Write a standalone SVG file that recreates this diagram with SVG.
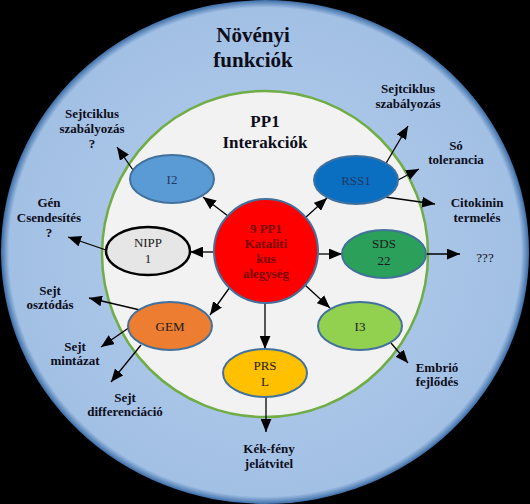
<svg xmlns="http://www.w3.org/2000/svg" width="530" height="504" viewBox="0 0 530 504">
<style>
.t{font-family:"Liberation Serif","Times New Roman",serif;font-weight:bold;font-size:13px;fill:#0d0d1a;text-anchor:middle}
.n{font-family:"Liberation Serif","Times New Roman",serif;font-size:13px;fill:#1a1a1a;text-anchor:middle}
.e{stroke:#41719c;stroke-width:2}
.c line{stroke:#000;stroke-width:1.3;marker-end:url(#ah)}
</style>
<defs>
<marker id="ah" viewBox="0 0 12 10" refX="12" refY="5" markerWidth="13" markerHeight="11" markerUnits="userSpaceOnUse" orient="auto">
<path d="M0,0 L12,5 L0,10 z" fill="#000"/>
</marker>
<radialGradient id="bg" cx="50%" cy="50%" r="50%">
<stop offset="0.6" stop-color="#a9c6e8"/>
<stop offset="0.97" stop-color="#a2c0e4"/>
<stop offset="1" stop-color="#3c6ea8"/>
</radialGradient>
</defs>
<rect width="530" height="504" fill="#000"/>
<g id="outer">
<ellipse cx="265" cy="252" rx="264" ry="252" fill="url(#bg)"/>
<text class="t" x="253" y="42" style="font-size:21px">Növényi</text>
<text class="t" x="253" y="67" style="font-size:21px">funkciók</text>
</g>
<g id="inner">
<circle cx="265" cy="254" r="163" fill="#f2f2f2" stroke="#70ad47" stroke-width="2.5"/>
<text class="t" x="265" y="127" style="font-size:17px">PP1</text>
<text class="t" x="265" y="148" style="font-size:17px">Interakciók</text>
</g>
<g id="connectors" class="c">
<line x1="228" y1="216" x2="203" y2="197"/>
<line x1="213" y1="252" x2="190" y2="252"/>
<line x1="305" y1="218" x2="327" y2="198"/>
<line x1="317" y1="254" x2="342" y2="254"/>
<line x1="230" y1="287" x2="210" y2="315"/>
<line x1="265" y1="302" x2="265" y2="349"/>
<line x1="305" y1="285" x2="330" y2="308"/>
<line x1="133" y1="170" x2="117" y2="147"/>
<line x1="106" y1="250" x2="68" y2="237"/>
<line x1="385" y1="165" x2="408" y2="126"/>
<line x1="398" y1="180" x2="419" y2="169"/>
<line x1="385" y1="197" x2="435" y2="204"/>
<line x1="426" y1="254" x2="460" y2="254"/>
<line x1="140" y1="310" x2="89" y2="298"/>
<line x1="130" y1="327" x2="101" y2="347"/>
<line x1="141" y1="345" x2="111" y2="382"/>
<line x1="391" y1="343" x2="408" y2="363"/>
<line x1="266" y1="397" x2="266" y2="432"/>
</g>
<g id="center">
<circle cx="266" cy="251" r="52" fill="#ff0000" stroke="#41719c" stroke-width="2"/>
<text class="t" x="266" y="233" style="fill:#7a0000">9 PP1</text>
<text class="t" x="266" y="248" style="fill:#7a0000">Kataliti</text>
<text class="t" x="266" y="263" style="fill:#7a0000">kus</text>
<text class="t" x="266" y="278" style="fill:#7a0000">alegység</text>
</g>
<g id="I2">
<ellipse class="e" cx="172" cy="179" rx="42" ry="24" fill="#5b9bd5"/>
<text class="n" x="172" y="184" style="fill:#1f3864">I2</text>
</g>
<g id="NIPP1">
<ellipse cx="148" cy="251" rx="42" ry="24" fill="#e7e6e6" stroke="#000" stroke-width="2.5"/>
<text class="n" x="148" y="247">NIPP</text>
<text class="n" x="148" y="263">1</text>
</g>
<g id="RSS1">
<ellipse class="e" cx="356" cy="180" rx="42" ry="24" fill="#0b6fc1"/>
<text class="n" x="356" y="185" style="fill:#1f3864">RSS1</text>
</g>
<g id="SDS22">
<ellipse class="e" cx="384" cy="254" rx="42" ry="24" fill="#2ba05a"/>
<text class="n" x="384" y="248">SDS</text>
<text class="n" x="384" y="265">22</text>
</g>
<g id="GEM">
<ellipse class="e" cx="170" cy="326" rx="42" ry="24" fill="#ed7d31"/>
<text class="n" x="170" y="331">GEM</text>
</g>
<g id="I3">
<ellipse class="e" cx="360" cy="326" rx="42" ry="24" fill="#92d050"/>
<text class="n" x="360" y="331">I3</text>
</g>
<g id="PRSL">
<ellipse class="e" cx="265" cy="373" rx="42" ry="24" fill="#ffc000"/>
<text class="n" x="265" y="370">PRS</text>
<text class="n" x="265" y="386">L</text>
</g>
<g id="labels">
<text class="t" x="92" y="118">Sejtciklus</text>
<text class="t" x="92" y="133">szabályozás</text>
<text class="t" x="92" y="148">?</text>
<text class="t" x="49" y="207">Gén</text>
<text class="t" x="49" y="222">Csendesítés</text>
<text class="t" x="49" y="237">?</text>
<text class="t" x="408" y="93">Sejtciklus</text>
<text class="t" x="408" y="108">szabályozás</text>
<text class="t" x="456" y="150">Só</text>
<text class="t" x="456" y="164">tolerancia</text>
<text class="t" x="477" y="207">Citokinin</text>
<text class="t" x="477" y="222">termelés</text>
<text class="n" x="485" y="262" style="fill:#0d0d1a">???</text>
<text class="t" x="50" y="295">Sejt</text>
<text class="t" x="50" y="309">osztódás</text>
<text class="t" x="75" y="351">Sejt</text>
<text class="t" x="75" y="365">mintázat</text>
<text class="t" x="125" y="402">Sejt</text>
<text class="t" x="125" y="416">differenciáció</text>
<text class="t" x="437" y="372">Embrió</text>
<text class="t" x="437" y="386">fejlődés</text>
<text class="t" x="269" y="453">Kék-fény</text>
<text class="t" x="269" y="468">jelátvitel</text>
</g>
</svg>
